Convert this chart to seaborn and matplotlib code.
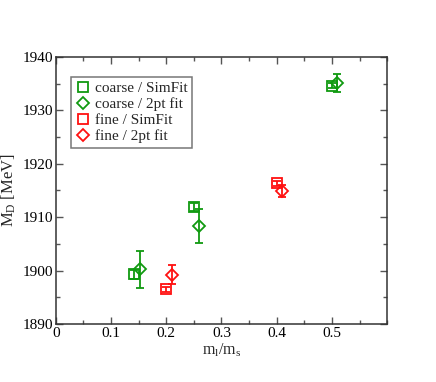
import matplotlib
matplotlib.use("Agg")
import matplotlib.pyplot as plt
import matplotlib.ticker as mticker
import seaborn as sns

sns.set_theme(style="ticks")
plt.rcParams["font.family"] = ["Liberation Serif", "DejaVu Serif"]
plt.rcParams["mathtext.fontset"] = "custom"
plt.rcParams["mathtext.rm"] = "Liberation Serif"
plt.rcParams["mathtext.it"] = "Liberation Serif"

GREEN = "#109a10"
RED = "#ff1010"

# ── Data ─────────────────────────────────────────────────────────────────────
coarse_sim_x = [0.142, 0.25, 0.50]
coarse_sim_y = [1899.3, 1911.9, 1934.6]
coarse_sim_err = [0.8, 0.8, 0.5]

coarse_2pt_x = [0.152, 0.26, 0.51]
coarse_2pt_y = [1900.2, 1908.3, 1935.1]
coarse_2pt_err = [3.5, 3.15, 1.75]

fine_sim_x = [0.20, 0.40]
fine_sim_y = [1896.5, 1916.3]
fine_sim_err = [0.5, 0.5]

fine_2pt_x = [0.21, 0.41]
fine_2pt_y = [1899.2, 1914.9]
fine_2pt_err = [1.75, 1.05]

series = [
    ("coarse / SimFit", coarse_sim_x, coarse_sim_y, coarse_sim_err, "s", GREEN),
    ("coarse / 2pt fit", coarse_2pt_x, coarse_2pt_y, coarse_2pt_err, "D", GREEN),
    ("fine / SimFit", fine_sim_x, fine_sim_y, fine_sim_err, "s", RED),
    ("fine / 2pt fit", fine_2pt_x, fine_2pt_y, fine_2pt_err, "D", RED),
]

fig = plt.figure(figsize=(4.36, 3.82), dpi=100)
ax = fig.add_axes([0.128, 0.152, 0.760, 0.699])

handles = []
for label, xs, ys, errs, marker, color in series:
    ax.errorbar(xs, ys, yerr=errs, fmt="none", ecolor=color,
                elinewidth=1.3, capsize=3, capthick=1.3)
    ms = 7 if marker == "s" else 6.5
    line, = ax.plot(xs, ys, linestyle="none", marker=marker, markersize=ms,
                    markerfacecolor="none", markeredgecolor=color,
                    markeredgewidth=1.3, label=label)
    handles.append(line)

ax.set_xlim(0, 0.6)
ax.set_ylim(1890, 1940)
ax.xaxis.set_major_locator(mticker.FixedLocator([0, 0.1, 0.2, 0.3, 0.4, 0.5]))
ax.xaxis.set_major_formatter(mticker.FuncFormatter(lambda v, _: "0" if v == 0 else f"{v:.1f}"))
ax.xaxis.set_minor_locator(mticker.MultipleLocator(0.05))
ax.yaxis.set_major_locator(mticker.MultipleLocator(10))
ax.yaxis.set_minor_locator(mticker.MultipleLocator(5))

ax.tick_params(which="both", direction="in", top=True, right=True,
               colors="#555555", labelcolor="black", labelsize=11, pad=2)
ax.tick_params(which="major", length=5, width=1)
ax.tick_params(which="minor", length=3, width=1)
for sp in ax.spines.values():
    sp.set_color("#333333")
    sp.set_linewidth(1.1)

ax.set_xlabel(r"m$_\mathrm{l}$/m$_\mathrm{s}$", fontsize=11.5, labelpad=1)
ax.set_ylabel(r"M$_\mathrm{D}$ [MeV]", fontsize=12, labelpad=3)

leg = ax.legend(handles=handles, loc="upper left", bbox_to_anchor=(0.045, 0.925),
                fontsize=11, frameon=True, fancybox=False, borderpad=0.3,
                handletextpad=0.3, handlelength=1.0, labelspacing=0.15,
                borderaxespad=0)
leg.get_frame().set_edgecolor("#555555")
leg.get_frame().set_linewidth(1.1)

fig.savefig("out.png", dpi=100)
